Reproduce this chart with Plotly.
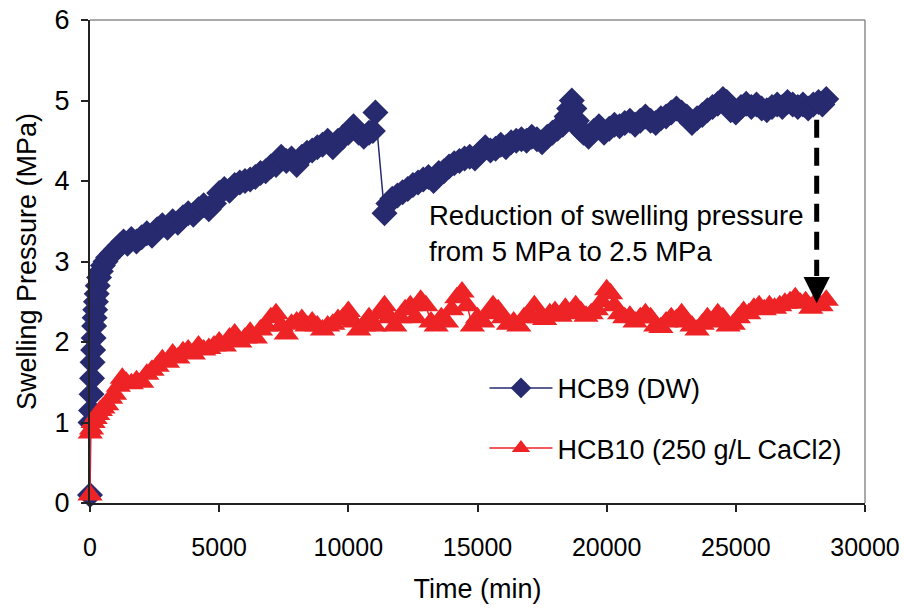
import plotly.graph_objects as go

# ---- data ----
hcb9_t = [0, 20, 40, 60, 80, 100, 120, 140, 160, 180, 200, 230, 260, 300, 350, 420, 500, 600, 700, 850,
          1000, 1150, 1300, 1450, 1600, 1800, 2000, 2200, 2400, 2600, 2800, 3000, 3200, 3400, 3600, 3800,
          4000, 4200, 4400, 4600, 4800, 5000, 5200, 5400, 5600, 5800, 6000, 6200, 6400, 6600, 6800, 7000,
          7200, 7400, 7600, 7800, 8000, 8200, 8400, 8600, 8800, 9000, 9200, 9400, 9600, 9800, 10000, 10200,
          10400, 10600, 10800, 10950, 11050, 11400, 11550, 11700, 11900, 12100, 12300, 12500, 12700, 12900,
          13100, 13300, 13500, 13700, 13900, 14100, 14300, 14500, 14700, 14900, 15100, 15300, 15500, 15700,
          15900, 16100, 16300, 16500, 16700, 16900, 17100, 17300, 17500, 17700, 17900, 18100, 18300, 18450,
          18550, 18650, 18750, 18850, 18950, 19100, 19300, 19500, 19700, 19900, 20100, 20300, 20500, 20700,
          20900, 21100, 21300, 21500, 21700, 21900, 22100, 22300, 22500, 22700, 22900, 23100, 23300, 23500,
          23700, 23900, 24100, 24300, 24500, 24650, 24800, 25000, 25200, 25400, 25600, 25800, 26000, 26200,
          26400, 26600, 26800, 27000, 27200, 27400, 27600, 27800, 28000, 28200, 28350, 28500]
hcb9_p = [0.1, 1.0, 1.15, 1.35, 1.55, 1.75, 1.9, 2.05, 2.2, 2.3, 2.4, 2.5, 2.6, 2.7, 2.8, 2.88, 2.95, 3.0, 3.05, 3.1,
          3.15, 3.2, 3.25, 3.22, 3.28, 3.25, 3.3, 3.35, 3.32, 3.4, 3.45, 3.42, 3.5, 3.48, 3.55, 3.6,
          3.58, 3.65, 3.7, 3.65, 3.72, 3.85, 3.9, 3.88, 3.95, 3.98, 4.0, 4.02, 4.05, 4.1, 4.12, 4.18,
          4.2, 4.3, 4.25, 4.28, 4.2, 4.3, 4.35, 4.38, 4.42, 4.45, 4.5, 4.42, 4.5, 4.55, 4.6, 4.68,
          4.6, 4.55, 4.6, 4.62, 4.85, 3.6, 3.72, 3.78, 3.82, 3.86, 3.9, 3.95, 3.98, 4.02,
          4.05, 4.0, 4.1, 4.12, 4.18, 4.22, 4.25, 4.28, 4.3, 4.28, 4.35, 4.42, 4.38, 4.4,
          4.45, 4.42, 4.48, 4.5, 4.52, 4.5, 4.55, 4.52, 4.48, 4.55, 4.6, 4.65, 4.7, 4.8,
          4.9, 5.0, 4.9, 4.75, 4.65, 4.6, 4.55, 4.62, 4.68, 4.6, 4.65, 4.7, 4.68, 4.72,
          4.75, 4.7, 4.75, 4.8, 4.75, 4.72, 4.78, 4.8, 4.85, 4.9, 4.85, 4.8, 4.72, 4.78,
          4.82, 4.88, 4.92, 4.96, 5.02, 4.98, 4.88, 4.85, 4.92, 4.96, 4.92, 4.95, 4.9, 4.88,
          4.92, 4.95, 4.92, 4.98, 4.95, 4.92, 4.95, 4.9, 4.95, 4.98, 4.95, 5.02]

hcb10_t = [0, 10, 60, 120, 200, 300, 400, 500, 650, 800, 950, 1100, 1250, 1400, 1600, 1800, 2000, 2200, 2400,
           2600, 2800, 3000, 3200, 3400, 3600, 3800, 4000, 4200, 4400, 4600, 4800, 5000, 5200, 5400, 5600,
           5800, 6000, 6200, 6400, 6600, 6800, 7000, 7200, 7400, 7600, 7800, 8000, 8200, 8400, 8600, 8800,
           9000, 9200, 9400, 9600, 9800, 10000, 10200, 10400, 10600, 10800, 11000, 11200, 11400, 11600,
           11800, 12000, 12200, 12400, 12600, 12800, 13000, 13200, 13400, 13600, 13800, 14000, 14200, 14400,
           14600, 14800, 15000, 15200, 15400, 15600, 15800, 16000, 16200, 16400, 16600, 16800, 17000, 17200,
           17400, 17600, 17800, 18000, 18200, 18400, 18600, 18800, 19000, 19200, 19400, 19600, 19800, 20000,
           20150, 20300, 20500, 20700, 20900, 21100, 21300, 21500, 21700, 21900, 22100, 22300, 22500, 22700,
           22900, 23100, 23300, 23500, 23700, 23900, 24100, 24300, 24500, 24700, 24900, 25100, 25300, 25500,
           25700, 25900, 26100, 26300, 26500, 26700, 26900, 27100, 27300, 27500, 27700, 27900, 28100, 28300, 28500]
hcb10_p = [0.1, 0.87, 0.92, 1.0, 1.05, 1.1, 1.15, 1.18, 1.22, 1.3, 1.35, 1.45, 1.55, 1.5, 1.48, 1.52, 1.5, 1.6, 1.65,
           1.7, 1.78, 1.75, 1.85, 1.8, 1.88, 1.9, 1.85, 1.95, 1.9, 1.92, 1.95, 2.0, 1.95, 2.05, 2.1,
           2.0, 2.05, 2.12, 2.05, 2.15, 2.2, 2.3, 2.35, 2.2, 2.1, 2.22, 2.25, 2.28, 2.2, 2.25, 2.2,
           2.15, 2.2, 2.22, 2.28, 2.3, 2.38, 2.25, 2.15, 2.2, 2.3, 2.2, 2.35, 2.45, 2.3,
           2.2, 2.3, 2.4, 2.45, 2.3, 2.52, 2.45, 2.25, 2.2, 2.3, 2.25, 2.4, 2.55, 2.62,
           2.45, 2.2, 2.3, 2.25, 2.35, 2.45, 2.4, 2.3, 2.22, 2.25, 2.2, 2.3, 2.35, 2.45,
           2.3, 2.28, 2.35, 2.38, 2.32, 2.42, 2.35, 2.45, 2.38, 2.32, 2.35, 2.4, 2.5, 2.65,
           2.6, 2.45, 2.35, 2.3, 2.32, 2.25, 2.3, 2.35, 2.3, 2.2, 2.18, 2.25, 2.3, 2.28,
           2.35, 2.25, 2.2, 2.15, 2.22, 2.3, 2.25, 2.35, 2.3, 2.2, 2.22, 2.3, 2.38, 2.35,
           2.42, 2.45, 2.4, 2.45, 2.42, 2.45, 2.48, 2.5, 2.55, 2.48, 2.5, 2.42, 2.5, 2.45, 2.52]

series_names = ["HCB9 (DW)", "HCB10 (250 g/L CaCl2)"]
x_ticks = [0, 5000, 10000, 15000, 20000, 25000, 30000]
y_ticks = [0, 1, 2, 3, 4, 5, 6]
note_text = "Reduction of swelling pressure<br>from 5 MPa to 2.5 MPa"
arrow_t = 28130
arrow_top, arrow_head_base, arrow_tip = 4.76, 2.82, 2.48

NAVY = "#272a6f"
RED = "#ee2326"
FONT = "Liberation Sans, Arial, Helvetica, sans-serif"

fig = go.Figure()
fig.add_trace(go.Scatter(
    x=hcb9_t, y=hcb9_p, name=series_names[0], mode="lines+markers",
    line=dict(color=NAVY, width=1.5),
    marker=dict(symbol="diamond", size=20, color=NAVY, line=dict(width=0)),
    cliponaxis=False, legendgroup="a"))
fig.add_trace(go.Scatter(
    x=hcb10_t, y=hcb10_p, name=series_names[1], mode="lines+markers",
    line=dict(color=RED, width=1.5),
    marker=dict(symbol="triangle-up", size=22, color=RED, line=dict(width=0)),
    cliponaxis=False, legendgroup="b"))

# dashed arrow shaft
fig.add_shape(type="line", xref="x", yref="y", x0=arrow_t, x1=arrow_t,
              y0=arrow_top, y1=arrow_head_base,
              line=dict(color="black", width=5, dash="18px,10px"), layer="above")
# arrow head
fig.add_annotation(x=arrow_t, y=arrow_tip, xref="x", yref="y", ax=0, ay=-26,
                   text="", showarrow=True, arrowhead=2, arrowsize=1.05, arrowwidth=5,
                   arrowcolor="black")
# note
fig.add_annotation(x=0.435, y=0.631, xref="paper", yref="paper", xanchor="left", yanchor="top",
                   text=note_text, showarrow=False, align="left",
                   font=dict(family=FONT, size=27.5, color="black"))

# plot area border (top / right, grey)
fig.add_shape(type="line", xref="paper", yref="paper", x0=0, x1=1, y0=1, y1=1,
              line=dict(color="#8c8c8c", width=1.5))
fig.add_shape(type="line", xref="paper", yref="paper", x0=1, x1=1, y0=0, y1=1,
              line=dict(color="#8c8c8c", width=1.5))

fig.update_layout(
    width=904, height=609,
    margin=dict(l=90, r=39, t=20, b=106, autoexpand=False),
    paper_bgcolor="white", plot_bgcolor="white",
    font=dict(family=FONT, size=27, color="black"),
    showlegend=True,
    legend=dict(x=0.509, y=0.288, xanchor="left", yanchor="top",
                font=dict(family=FONT, size=27, color="black"),
                bgcolor="rgba(0,0,0,0)", tracegroupgap=22, traceorder="grouped",
                itemwidth=63),
    xaxis=dict(range=[0, 30000], tickvals=x_ticks, ticktext=[str(v) for v in x_ticks],
               automargin=False, ticklabeloverflow="allow",
               showgrid=False, zeroline=False, showline=True, linecolor="#222", linewidth=2,
               ticks="outside", ticklen=7, tickwidth=1.5, tickcolor="#222",
               tickfont=dict(family=FONT, size=25), ticklabelstandoff=14,
               title=dict(text="Time (min)", font=dict(family=FONT, size=27), standoff=19)),
    yaxis=dict(range=[0, 6], tickvals=y_ticks, showgrid=False, zeroline=False,
               automargin=False,
               showline=True, linecolor="#222", linewidth=2,
               ticks="outside", ticklen=7, tickwidth=1.5, tickcolor="#222",
               tickfont=dict(family=FONT, size=27), ticklabelstandoff=6,
               title=dict(text="Swelling Pressure (MPa)", font=dict(family=FONT, size=27), standoff=10)),
)

fig.write_html("out.html")
